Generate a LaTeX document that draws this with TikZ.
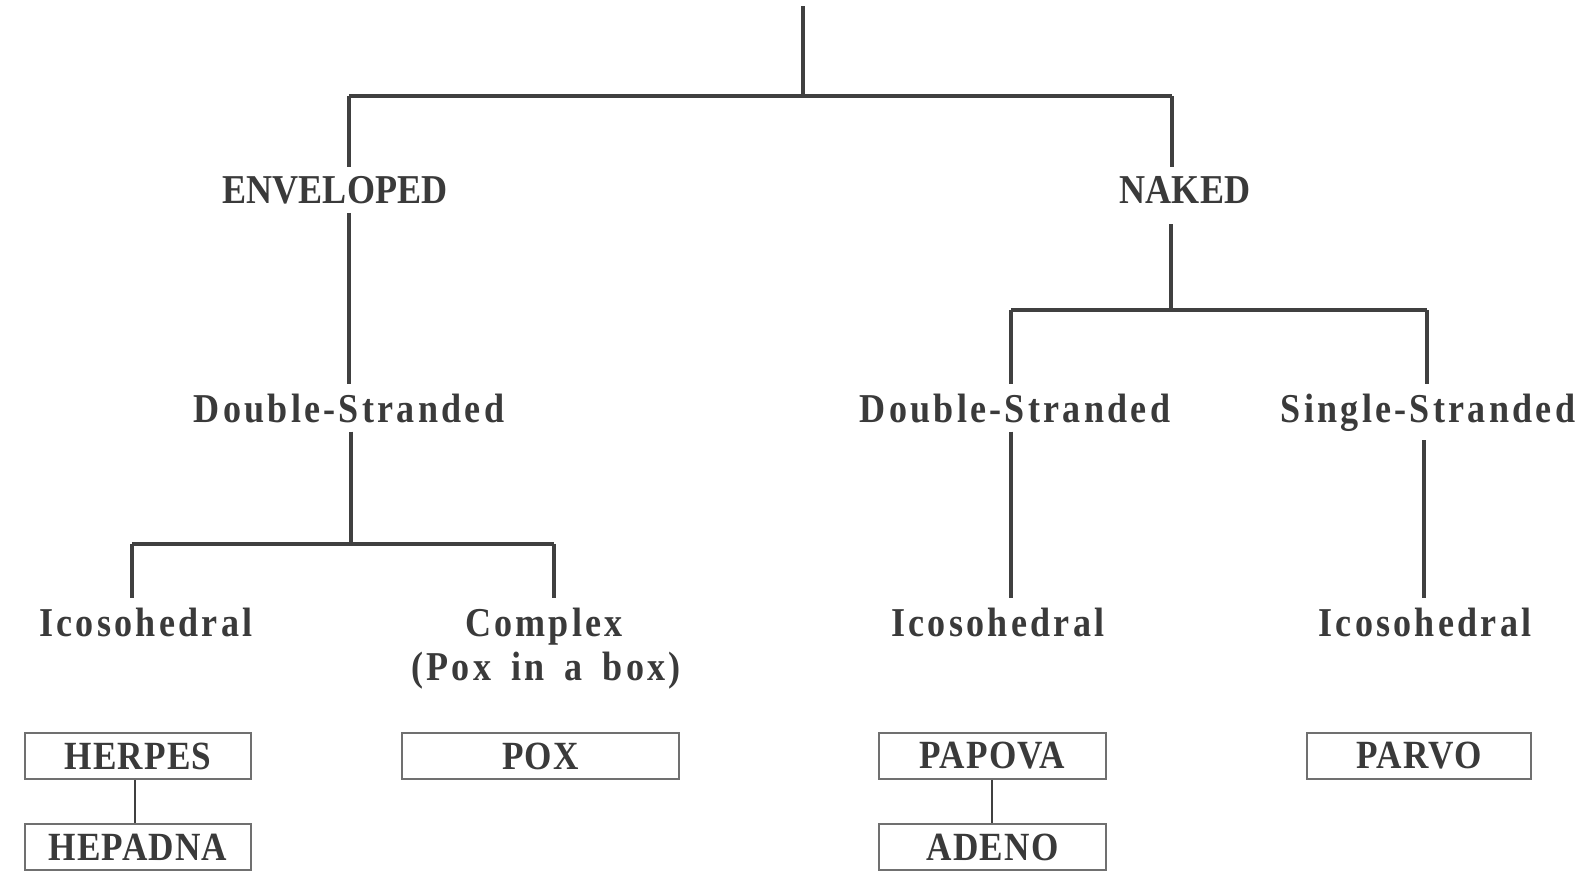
\documentclass[tikz,border=0pt]{standalone}
\usepackage{fontspec}
\newfontfamily\labf{Liberation Serif}[FakeStretch=0.88]
\newfontfamily\labsp{Liberation Serif}[FakeStretch=0.88,LetterSpace=8]
\newfontfamily\boxf{Liberation Serif}[FakeStretch=0.88,LetterSpace=3]
\definecolor{ink}{HTML}{3A3A3A}
\definecolor{lin}{HTML}{404040}
\begin{document}
\begin{tikzpicture}[x=1pt,y=-1pt,
  caplab/.style={anchor=base,inner sep=9pt,text=ink,font=\labf\bfseries\fontsize{41}{45}\selectfont},
  lowlab/.style={anchor=base,inner sep=9pt,text=ink,font=\labsp\bfseries\fontsize{41}{45}\selectfont},
  vbox/.style={draw=lin!75,line width=1.8pt,minimum width=226pt,minimum height=46pt,inner sep=0pt,text=ink,font=\boxf\bfseries\fontsize{40}{44}\selectfont},
  conn/.style={draw=lin,line width=3.2pt}]
\useasboundingbox (0,0) rectangle (1595,879);
\fill[white] (0,0) rectangle (1595,879);
% label nodes
\node[caplab] (env) at (335,203) {ENVELOPED};
\node[caplab] (nak) at (1185,203) {NAKED};
\node[lowlab] (ds1) at (349,422) {Double-Stranded};
\node[lowlab] (ds2) at (1015,422) {Double-Stranded};
\node[lowlab] (ss) at (1428,422) {Single-Stranded};
\node[lowlab] (ico1) at (146,636) {Icosohedral};
\node[lowlab] (cx) at (544,636) {Complex};
\node[lowlab,inner sep=2pt] (pib) at (546,680) {(Pox\hspace{20pt}in\hspace{20pt}a\hspace{20pt}box)};
\node[lowlab] (ico2) at (998,636) {Icosohedral};
\node[lowlab] (ico3) at (1425,636) {Icosohedral};
% boxes
\node[vbox] (herpes) at (138,756) {HERPES};
\node[vbox] (hepadna) at (138,847) {HEPADNA};
\node[vbox,minimum width=277pt] (pox) at (540.5,756) {POX};
\node[vbox,minimum width=227pt] (papova) at (992.5,756) {PAPOVA};
\node[vbox,minimum width=227pt] (adeno) at (992.5,847) {ADENO};
\node[vbox,minimum width=224pt] (parvo) at (1419,756) {PARVO};
% junction coordinates
\coordinate (top) at (803,6);
\coordinate (j0) at (803,96);
\coordinate (jl) at (349,96);
\coordinate (jr) at (1172,96);
\coordinate (j2) at (1171,310);
\coordinate (j2l) at (1011,310);
\coordinate (j2r) at (1427,310);
\coordinate (j3) at (351,544);
\coordinate (j3l) at (132,544);
\coordinate (j3r) at (554,544);
\coordinate (j4) at (1424,310);
% connectors
\draw[conn] (top) -- (j0);
\draw[conn] (jl) -- (jr);
\draw[conn] (jl) -- (jl |- env.north);
\draw[conn] (jl |- env.south) -- (jl |- ds1.north);
\draw[conn] (jr) -- (jr |- nak.north);
\draw[conn] ([yshift=-12pt]j2 |- nak.south) -- (j2);
\draw[conn] (j2l) -- (j2r);
\draw[conn] (j2l) -- (j2l |- ds2.north);
\draw[conn] (j2r) -- (j2r |- ss.north);
\draw[conn] (j2l |- ds2.south) -- (j2l |- ico2.north);
\draw[conn] (j4 |- ss.south) -- (j4 |- ico3.north);
\draw[conn] (j3 |- ds1.south) -- (j3);
\draw[conn] (j3l) -- (j3r);
\draw[conn] (j3l) -- (j3l |- ico1.north);
\draw[conn] (j3r) -- (j3r |- cx.north);
\draw[draw=lin,line width=1.6pt] (herpes.south) ++(-3,0) coordinate (h1) -- (h1 |- hepadna.north);
\draw[draw=lin,line width=1.6pt] (papova.south) ++(-0.5,0) coordinate (p1) -- (p1 |- adeno.north);
\end{tikzpicture}
\end{document}
